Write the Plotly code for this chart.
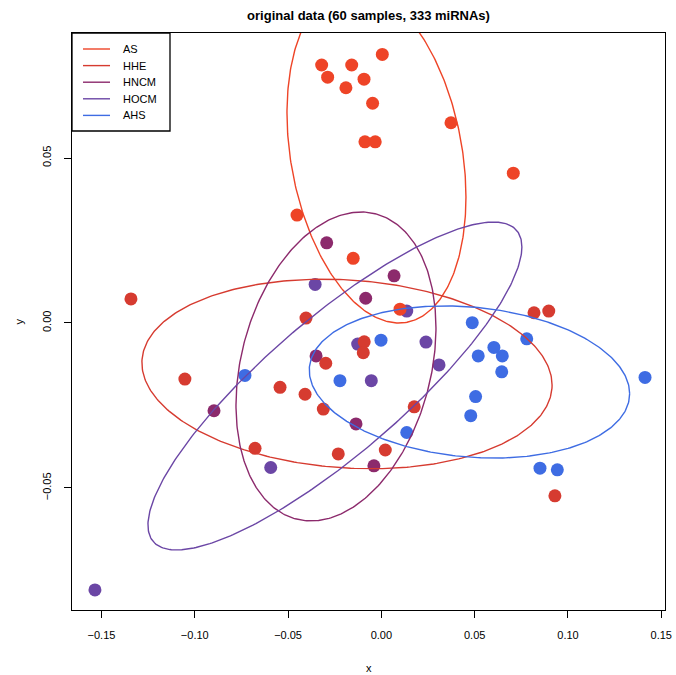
import numpy as np
import plotly.graph_objects as go

# ---- data ----
groups = ["AS", "HHE", "HNCM", "HOCM", "AHS"]

as_x = [-0.0320, -0.0159, 0.0005, -0.0288, -0.0093, -0.0190, -0.0047, -0.0088, -0.0033,
        0.0373, 0.0707, -0.0452, -0.0151, 0.0100]
as_y = [0.0782, 0.0782, 0.0814, 0.0745, 0.0739, 0.0713, 0.0666, 0.0549, 0.0549,
        0.0607, 0.0454, 0.0327, 0.0196, 0.0042]

hhe_x = [-0.1342, -0.0404, -0.0092, -0.0097, -0.0298, -0.0543, -0.0409, -0.0311, 0.0176,
         -0.0677, -0.0231, 0.0021, -0.1053, 0.0818, 0.0897, 0.0930]
hhe_y = [0.0073, 0.0015, -0.0057, -0.0090, -0.0122, -0.0195, -0.0216, -0.0261, -0.0254,
         -0.0380, -0.0397, -0.0385, -0.0170, 0.0031, 0.0036, -0.0524]

hncm_x = [-0.0293, 0.0068, -0.0084, -0.0350, -0.0136, -0.0040, -0.0897]
hncm_y = [0.0243, 0.0143, 0.0075, -0.0100, -0.0306, -0.0433, -0.0266]

hocm_x = [-0.0355, 0.0136, -0.0127, 0.0239, 0.0309, -0.0054, -0.0593, -0.1535]
hocm_y = [0.0117, 0.0036, -0.0064, -0.0058, -0.0127, -0.0175, -0.0438, -0.0809]

ahs_x = [0.0487, -0.0002, 0.0779, 0.0603, 0.0519, 0.0648, 0.0645, 0.1413, -0.0731,
         -0.0222, 0.0505, 0.0479, 0.0136, 0.0850, 0.0943]
ahs_y = [0.0001, -0.0052, -0.0048, -0.0074, -0.0100, -0.0100, -0.0148, -0.0165, -0.0159,
         -0.0175, -0.0223, -0.0281, -0.0332, -0.0440, -0.0445]

# ellipse summaries per group: centre, half extents, correlation
ell_cx = [-0.00263, -0.01843, -0.02433, -0.0249, 0.04721]
ell_cy = [0.05091, -0.01545, -0.01318, -0.0191, -0.01788]
ell_sx = [0.04796, 0.10991, 0.05359, 0.1002, 0.08585]
ell_sy = [0.05091, 0.02873, 0.04682, 0.0497, 0.02306]
ell_r = [-0.25, -0.117, 0.25, 0.848, -0.154]

x_ticks = [-0.15, -0.10, -0.05, 0.00, 0.05, 0.10, 0.15]
x_tick_text = ["\u22120.15", "\u22120.10", "\u22120.05", "0.00", "0.05", "0.10", "0.15"]
y_ticks = [-0.05, 0.00, 0.05]
y_tick_text = ["\u22120.05", "0.00", "0.05"]

# ---- styles ----
colors = {"AS": "#EE4427", "HHE": "#D63B30", "HNCM": "#8C2A6C",
          "HOCM": "#6B46A5", "AHS": "#3E6CE3"}
font = "Liberation Sans, Arial, Helvetica, sans-serif"

W, H = 676, 675
L, R, T, B = 72, 11, 33, 65
PW, PH = W - L - R, H - T - B


def px2paper_x(px):
    return (px - L) / PW


def px2paper_y(py):
    return (H - B - py) / PH


pts = {"AS": (as_x, as_y), "HHE": (hhe_x, hhe_y), "HNCM": (hncm_x, hncm_y),
       "HOCM": (hocm_x, hocm_y), "AHS": (ahs_x, ahs_y)}

fig = go.Figure()

for g in ["HOCM", "HNCM", "AHS", "HHE", "AS"]:
    xs, ys = pts[g]
    fig.add_trace(go.Scatter(x=xs, y=ys, mode="markers", showlegend=False,
                             marker=dict(size=13, color=colors[g], line=dict(width=0)),
                             hoverinfo="skip"))

t = np.linspace(0, 2 * np.pi, 361)
for i, g in enumerate(groups):
    r = ell_r[i]
    ex = ell_cx[i] + ell_sx[i] * np.cos(t)
    ey = ell_cy[i] + ell_sy[i] * (r * np.cos(t) + np.sqrt(1 - r * r) * np.sin(t))
    fig.add_trace(go.Scatter(x=ex, y=ey, mode="lines", name=g, showlegend=False,
                             line=dict(color=colors[g], width=1.4), hoverinfo="skip"))

# legend (R-style box drawn at the top-left corner)
shapes = [dict(type="rect", xref="paper", yref="paper",
               x0=px2paper_x(72), x1=px2paper_x(170), y0=px2paper_y(131), y1=px2paper_y(33),
               line=dict(color="black", width=1.3), fillcolor="white", layer="above")]
annotations = []
for i, g in enumerate(groups):
    yy = 49 + i * 16.6
    shapes.append(dict(type="line", xref="paper", yref="paper",
                       x0=px2paper_x(83), x1=px2paper_x(110),
                       y0=px2paper_y(yy), y1=px2paper_y(yy),
                       line=dict(color=colors[g], width=1.4), layer="above"))
    annotations.append(dict(text=g, xref="paper", yref="paper",
                            x=px2paper_x(121), y=px2paper_y(yy), xanchor="left",
                            yanchor="middle", showarrow=False,
                            font=dict(size=11, family=font, color="black")))

annotations.append(dict(text="x", xref="paper", yref="paper", x=0.5, y=px2paper_y(668),
                        showarrow=False, yanchor="middle", font=dict(size=11, family=font)))
annotations.append(dict(text="y", xref="paper", yref="paper", x=px2paper_x(18), y=0.5,
                        showarrow=False, xanchor="center", textangle=-90,
                        font=dict(size=11, family=font)))

fig.update_layout(
    width=W, height=H,
    margin=dict(l=L, r=R, t=T, b=B, autoexpand=False),
    paper_bgcolor="white", plot_bgcolor="white",
    font=dict(family=font, size=11, color="black"),
    title=dict(text="<b>original data (60 samples, 333 miRNAs)</b>",
               x=(L + W - R) / 2 / W, xanchor="center",
               y=1 - 15 / H, yanchor="middle", yref="container",
               font=dict(size=13, family=font)),
    showlegend=False,
    shapes=shapes,
    annotations=annotations,
)

fig.update_xaxes(range=[-0.1658, 0.1520], tickvals=x_ticks, ticktext=x_tick_text,
                 showgrid=False, zeroline=False, showline=True, mirror=True,
                 linecolor="black", linewidth=1.3, ticks="outside", ticklen=7,
                 tickcolor="black", tickwidth=1.3, ticklabelstandoff=8,
                 tickfont=dict(size=11, family=font))
fig.update_yaxes(range=[-0.0870, 0.0879], tickvals=y_ticks, ticktext=y_tick_text,
                 showgrid=False, zeroline=False, showline=True, mirror=True,
                 linecolor="black", linewidth=1.3, ticks="outside", ticklen=7,
                 tickcolor="black", tickwidth=1.3, tickangle=-90, ticklabelstandoff=8,
                 tickfont=dict(size=11, family=font))

fig.write_html("out.html", config={"displayModeBar": False},
               post_script="document.body.style.margin='0';document.body.style.overflow='hidden';")
